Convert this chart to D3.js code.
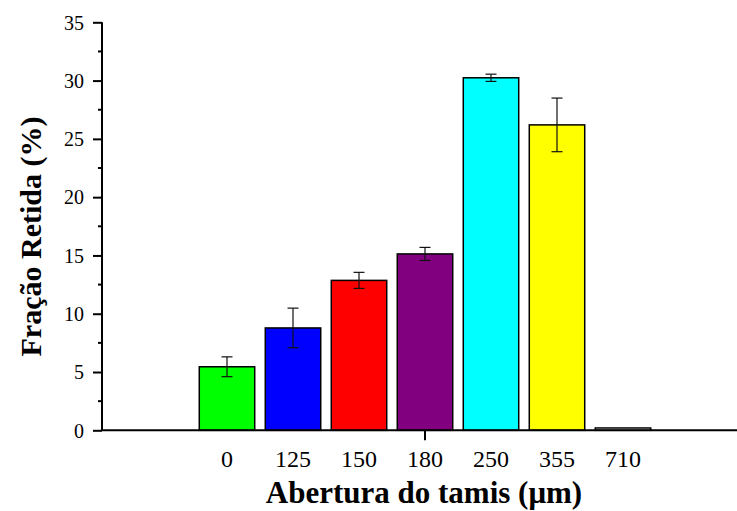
<!DOCTYPE html>
<html>
<head>
<meta charset="utf-8">
<script src="https://cdn.jsdelivr.net/npm/d3@7"></script>
</head>
<body style="margin:0;background:#fff">
<svg id="chart" width="737" height="511" style="display:block"></svg>
<script>
// Sieve opening categories (µm) and retained fraction (%) with deviations
const categories = ["0", "125", "150", "180", "250", "355", "710"];
const retained   = [5.45, 8.78, 12.86, 15.13, 30.24, 26.2, 0.2];
const deviation  = [0.85, 1.70, 0.69, 0.56, 0.31, 2.3, 0];
const barColors  = ["#00ff00", "#0000ff", "#ff0000", "#800080", "#00ffff", "#ffff00", "#ffffff"];
const yTicks     = [0, 5, 10, 15, 20, 25, 30, 35];

const SERIF = "Liberation Serif";

const svg = d3.select("#chart");

// Category index on a linear scale so the axis extends beyond the bars on both sides
const x = d3.scaleLinear().domain([-1.894, 7.894]).range([102, 748]);
const y = d3.scaleLinear().domain([0, 35]).range([430.3, 22.3]);
const barW = x(0.84) - x(0);

// Bars
svg.append("g").selectAll("rect")
  .data(retained)
  .join("rect")
  .attr("x", (d, i) => x(i) - barW / 2)
  .attr("y", d => y(d))
  .attr("width", barW)
  .attr("height", d => y(0) - y(d))
  .attr("fill", (d, i) => barColors[i])
  .attr("stroke", "#000")
  .attr("stroke-width", 1.5);

// Error bars
const eb = svg.append("g").attr("stroke", "#111").attr("stroke-width", 1.2);
retained.forEach((v, i) => {
  if (!deviation[i]) return;
  const cx = x(i), top = y(v + deviation[i]), bot = y(v - deviation[i]);
  eb.append("line").attr("x1", cx).attr("x2", cx).attr("y1", top).attr("y2", bot);
  eb.append("line").attr("x1", cx - 5.5).attr("x2", cx + 5.5).attr("y1", top).attr("y2", top);
  eb.append("line").attr("x1", cx - 5.5).attr("x2", cx + 5.5).attr("y1", bot).attr("y2", bot);
});

// Y axis with major ticks and minor ticks between them
const yAxis = svg.append("g").attr("transform", "translate(102,0)")
  .call(d3.axisLeft(y).tickValues(yTicks).tickSize(9).tickPadding(9).tickFormat(d3.format("d")));
yAxis.attr("font-family", SERIF).attr("font-size", 20);
yAxis.select(".domain").attr("stroke", "#000").attr("stroke-width", 2).attr("d", `M0,${y(0)}V${y(35)}`);
yAxis.selectAll(".tick line").attr("stroke", "#000").attr("stroke-width", 2);
yAxis.selectAll(".tick text").attr("fill", "#000").attr("dy", "0.34em");
const minor = d3.range(2.5, 35, 5);
svg.append("g").selectAll("line").data(minor).join("line")
  .attr("x1", 98).attr("x2", 102)
  .attr("y1", d => y(d)).attr("y2", d => y(d))
  .attr("stroke", "#000").attr("stroke-width", 2);

// X axis baseline with its single tick
svg.append("line").attr("x1", 101).attr("x2", 748).attr("y1", y(0)).attr("y2", y(0))
  .attr("stroke", "#000").attr("stroke-width", 2);
svg.append("line").attr("x1", x(3)).attr("x2", x(3)).attr("y1", y(0)).attr("y2", y(0) + 10)
  .attr("stroke", "#000").attr("stroke-width", 2);

// Category labels
svg.append("g").selectAll("text").data(categories).join("text")
  .attr("x", (d, i) => x(i))
  .attr("y", 466.5)
  .attr("text-anchor", "middle")
  .attr("font-family", SERIF)
  .attr("font-size", 24)
  .attr("fill", "#000")
  .text(d => d);

// Axis titles
svg.append("text")
  .attr("x", 424).attr("y", 503)
  .attr("text-anchor", "middle")
  .attr("font-family", SERIF)
  .attr("font-size", 31).attr("font-weight", "bold")
  .attr("fill", "#000")
  .text("Abertura do tamis (\u03bcm)");

svg.append("text")
  .attr("transform", "translate(41,236.5) rotate(-90)")
  .attr("text-anchor", "middle")
  .attr("font-family", SERIF)
  .attr("font-size", 30).attr("font-weight", "bold")
  .attr("fill", "#000")
  .text("Fração Retida (%)");
</script>
</body>
</html>
